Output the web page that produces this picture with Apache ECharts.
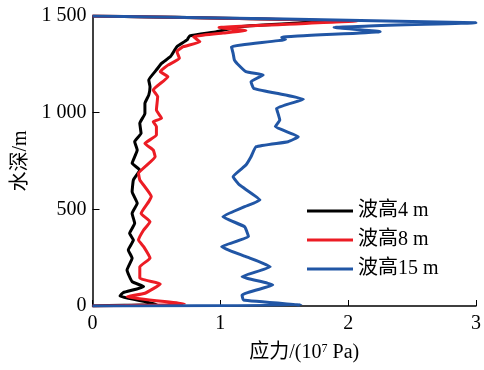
<!DOCTYPE html>
<html>
<head>
<meta charset="utf-8">
<script src="https://cdn.jsdelivr.net/npm/echarts@6/dist/echarts.min.js"></script>
<style>
  html, body { margin: 0; padding: 0; background: #fff; }
  #main { width: 484px; height: 370px; }
</style>
</head>
<body>
<div id="main"></div>
<script>
// 波高4 m
var stress4 = [0, 0.50, 0.215, 0.24, 0.40, 0.31, 0.27, 0.31, 0.28, 0.32, 0.29, 0.33, 0.31, 0.35, 0.31, 0.32, 0.37, 0.31, 0.35, 0.33, 0.38, 0.37, 0.41, 0.41, 0.44, 0.45, 0.44, 0.50, 0.54, 0.61, 0.66, 0.74, 0.76, 0.97, 1.15, 1.9, 0];
var depth4 = [0, 10, 52, 69, 100, 126, 186, 247, 290, 341, 376, 428, 479, 531, 591, 652, 703, 738, 807, 850, 893, 945, 996, 1048, 1091, 1134, 1169, 1221, 1255, 1290, 1341, 1376, 1397, 1419, 1445, 1476, 1500];

// 波高8 m
var stress8 = [0, 0.72, 0.27, 0.41, 0.53, 0.37, 0.37, 0.45, 0.40, 0.36, 0.40, 0.45, 0.38, 0.44, 0.46, 0.37, 0.36, 0.49, 0.475, 0.41, 0.50, 0.50, 0.475, 0.54, 0.50, 0.51, 0.475, 0.59, 0.53, 0.59, 0.68, 0.66, 0.71, 0.84, 0.79, 1.02, 1.2, 0.99, 2.07, 0];
var depth8 = [0, 10, 48, 66, 114, 143, 203, 247, 307, 341, 393, 436, 479, 540, 566, 652, 686, 772, 807, 841, 884, 928, 953, 971, 1014, 1083, 1117, 1186, 1212, 1246, 1281, 1316, 1341, 1367, 1393, 1412, 1425, 1440, 1474, 1500];

// 波高15 m
var stress15 = [0, 1.63, 1.18, 1.17, 1.41, 1.17, 1.39, 1.20, 1.01, 1.22, 1.19, 1.02, 1.19, 1.31, 1.15, 1.10, 1.20, 1.24, 1.28, 1.53, 1.61, 1.43, 1.465, 1.44, 1.65, 1.44, 1.26, 1.24, 1.335, 1.20, 1.13, 1.11, 1.10, 1.087, 1.51, 1.48, 2.25, 1.89, 3.0, 0];
var depth15 = [0, 5, 31, 57, 109, 152, 203, 255, 307, 359, 410, 462, 514, 548, 626, 669, 729, 772, 824, 850, 876, 928, 962, 1022, 1069, 1100, 1126, 1160, 1195, 1212, 1255, 1272, 1307, 1341, 1379, 1390, 1419, 1441, 1465, 1500];

var names = ['波高4 m', '波高8 m', '波高15 m'];
var colors = ['#000000', '#ec1c24', '#2156a5'];
var xTicks = [0, 1, 2, 3];
var yTicks = [0, 500, 1000, 1500];

var fontFamily = '"Liberation Serif", "Times New Roman", "Noto Sans CJK SC", serif';

function pairs(xs, ys) {
    return xs.map(function (x, i) { return [x, ys[i]]; });
}

var chart = echarts.init(document.getElementById('main'));

var seriesData = [pairs(stress4, depth4), pairs(stress8, depth8), pairs(stress15, depth15)];

var option = {
    animation: false,
    color: colors,
    grid: { left: 92.5, right: 8, top: 16, bottom: 64 },
    legend: {
        orient: 'vertical',
        left: 302,
        top: 196,
        icon: 'rect',
        itemWidth: 46,
        itemHeight: 3,
        itemGap: 9,
        textStyle: { fontFamily: fontFamily, fontSize: 20, color: '#000' },
        data: names
    },
    xAxis: {
        type: 'value',
        min: xTicks[0],
        max: xTicks[xTicks.length - 1],
        interval: 1,
        splitLine: { show: false },
        axisLine: { lineStyle: { color: '#000', width: 1.5 } },
        axisTick: { inside: true, length: 6, lineStyle: { color: '#000' } },
        axisLabel: { margin: 8, fontFamily: fontFamily, fontSize: 20, color: '#000' },
        name: '应力/(10{sup|7} Pa)',
        nameLocation: 'middle',
        nameGap: 37,
        nameTextStyle: {
            fontFamily: fontFamily, fontSize: 20, color: '#000',
            padding: [0, 0, 0, 40],
            rich: {
                sup: { fontFamily: fontFamily, fontSize: 12, color: '#000', padding: [0, 0, 8, 0] }
            }
        }
    },
    yAxis: {
        type: 'value',
        min: yTicks[0],
        max: yTicks[yTicks.length - 1],
        interval: 500,
        splitLine: { show: false },
        axisLine: { lineStyle: { color: '#000', width: 1.5 } },
        axisTick: { inside: true, length: 7, lineStyle: { color: '#000' } },
        axisLabel: {
            margin: 6, fontFamily: fontFamily, fontSize: 20, color: '#000',
            formatter: function (v) {
                if (v >= 1000) {
                    return Math.floor(v / 1000) + ' ' + String(v % 1000).padStart(3, '0');
                }
                return String(v);
            }
        },
        name: '水深/m',
        nameLocation: 'middle',
        nameGap: 55,
        nameTextStyle: { fontFamily: fontFamily, fontSize: 20, color: '#000' }
    },
    series: names.map(function (n, i) {
        return {
            name: n,
            type: 'line',
            data: seriesData[i],
            symbol: 'none',
            smooth: 0.12,
            lineStyle: { width: 3, color: colors[i] },
            z: 2 + i
        };
    })
};

chart.setOption(option);
</script>
</body>
</html>
